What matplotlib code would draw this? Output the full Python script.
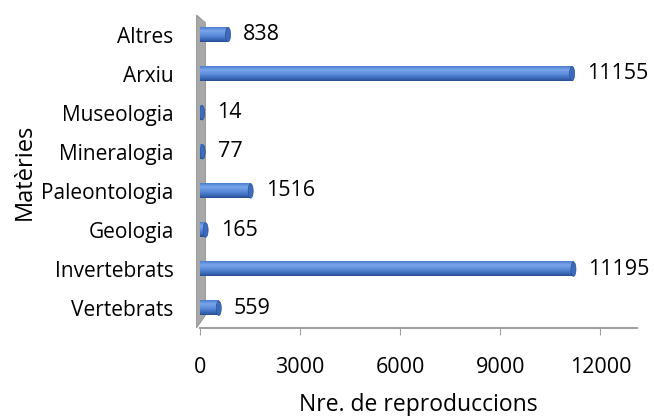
import matplotlib
matplotlib.use("Agg")
import matplotlib.pyplot as plt
from matplotlib.patches import Polygon, Ellipse
import numpy as np

plt.rcParams['font.family'] = ['Open Sans', 'DejaVu Sans']

# data
materies = ["Vertebrats", "Invertebrats", "Geologia", "Paleontologia",
            "Mineralogia", "Museologia", "Arxiu", "Altres"]
reproduccions = [559, 11195, 165, 1516, 77, 14, 11155, 838]
xticks = [0, 3000, 6000, 9000, 12000]

fig = plt.figure(figsize=(6.54, 4.16), dpi=100)
ax = fig.add_axes([0.306, 0.212, 0.668, 0.752])

ypos = np.arange(len(materies))
h = 0.37

# cylinder-like shading: vertical gradient inside each bar
grad = np.linspace(0, 1, 64).reshape(-1, 1)
cmap = matplotlib.colors.LinearSegmentedColormap.from_list(
    "cyl", ["#284f94", "#4273c4", "#6191dd", "#7aa5ea", "#4b7dcf"])
for y, v in zip(ypos, reproduccions):
    w = max(v, 60)
    ax.imshow(grad, extent=(0, w, y - h / 2, y + h / 2), cmap=cmap,
              aspect="auto", origin="lower", zorder=3)
    ax.add_patch(Ellipse((w, y), 150, h, facecolor="#3c6bbb",
                         edgecolor="#2d5399", lw=0.5, zorder=4))
    ax.text(w + 450, y, str(v), va="center", ha="left", fontsize=15.5, zorder=5)

# grey wall on the left
wall = Polygon([[-0.008, 1.0], [0.012, 0.975], [0.012, 0.04], [-0.008, 0.0]],
               closed=True, transform=ax.transAxes, facecolor="#a8a8a8",
               edgecolor="#8c8c8c", lw=0.6, clip_on=False, zorder=2)
ax.add_patch(wall)

ax.set_xlim(0, 13100)
ax.set_ylim(-0.5, len(materies) - 0.5)
ax.set_yticks(ypos)
ax.set_yticklabels(materies, fontsize=15)
ax.set_xticks(xticks)
ax.set_xticklabels([str(t) for t in xticks], fontsize=15.5)
ax.tick_params(axis="y", length=0, pad=19)
ax.tick_params(axis="x", length=5, color="#a0a0a0", direction="out", pad=16)

for s in ["top", "right", "left"]:
    ax.spines[s].set_visible(False)
ax.spines["bottom"].set_color("#a0a0a0")
ax.spines["bottom"].set_linewidth(1.5)

ax.set_xlabel("Nre. de reproduccions", fontsize=16.5)
ax.xaxis.set_label_coords(0.5, -0.208)
ax.set_ylabel("Matèries", fontsize=17)
ax.yaxis.set_label_coords(-0.373, 0.5)

fig.savefig("out.png", dpi=100)
